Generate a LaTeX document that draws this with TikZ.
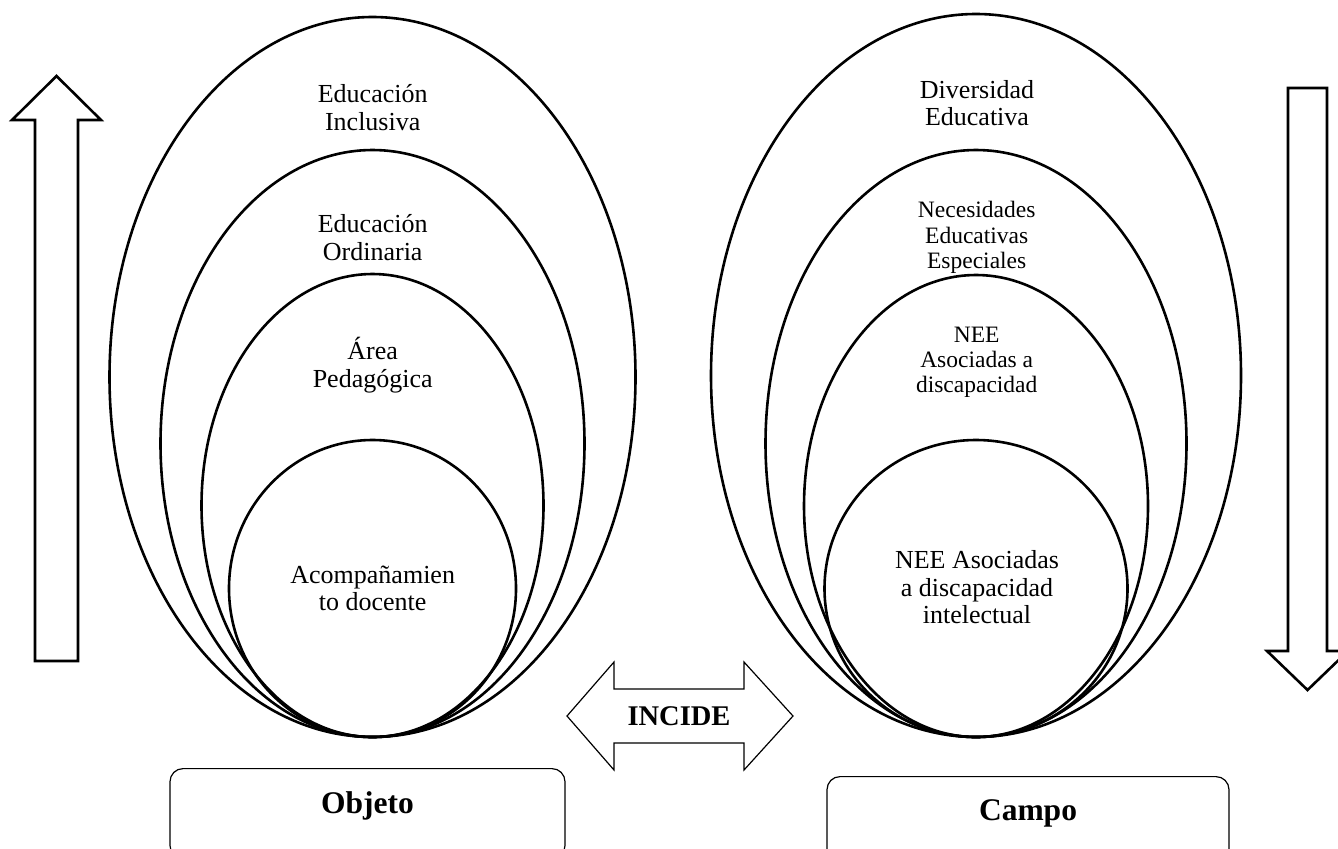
\documentclass[tikz,border=0pt]{standalone}
\usepackage{fontspec}
\setmainfont{Liberation Serif}
\begin{document}
\begin{tikzpicture}[x=0.5pt,y=-0.5pt,
  ring/.style={draw,line width=1.3pt},
  bigarrow/.style={draw,line width=1.3pt,line join=miter},
  thinarrow/.style={draw,line width=0.6pt,line join=miter},
  lbl/.style={align=center,inner sep=0pt,font=\fontsize{13}{13.75}\selectfont},
  lblsmall/.style={align=center,inner sep=0pt,font=\fontsize{11.75}{12.6}\selectfont},
  boxlbl/.style={inner sep=0pt,font=\bfseries\fontsize{15.75}{18}\selectfont},
  arrowlbl/.style={inner sep=0pt,font=\bfseries\fontsize{14.25}{16}\selectfont},
  fieldbox/.style={draw,line width=0.6pt,rounded corners=6.5pt,anchor=north,inner sep=0pt}]
\useasboundingbox (0,0) rectangle (1338,848);

% left group of ellipses
\draw[ring] (372.5,377) ellipse [x radius=131.5pt, y radius=180pt];
\draw[ring] (372.5,443.5) ellipse [x radius=106pt, y radius=146.75pt];
\draw[ring] (372.5,505.5) ellipse [x radius=85.5pt, y radius=115.75pt];
\draw[ring] (372.5,588.5) ellipse [x radius=71.75pt, y radius=74.25pt];

% right group of ellipses
\draw[ring] (976,375.5) ellipse [x radius=132.5pt, y radius=180.75pt];
\draw[ring] (976,443.5) ellipse [x radius=105.25pt, y radius=146.75pt];
\draw[ring] (976,506) ellipse [x radius=86pt, y radius=115.5pt];
\draw[ring] (976,588.5) ellipse [x radius=75.75pt, y radius=74.25pt];

% labels left
\node[lbl] (einc) at (372.7,107.5) {Educación\\Inclusiva};
\node[lbl] (eord) at (372.7,237.5) {Educación\\Ordinaria};
\node[lbl] (apeda) at (372.7,365) {Área\\Pedagógica};
\node[lbl] (acomp) at (372.7,588.5) {Acompañamien\\to docente};

% labels right
\node[lbl] (divers) at (977,103) {Diversidad\\Educativa};
\node[lblsmall,font=\fontsize{11.75}{12.75}\selectfont] (nee) at (976.7,237.5) {Necesidades\\Educativas\\Especiales};
\node[lblsmall,font=\fontsize{11.75}{12.5}\selectfont] (needis) at (976.7,362) {NEE\\Asociadas a\\discapacidad};
\node[lbl] (neeint) at (977,587.5) {NEE Asociadas\\a discapacidad\\intelectual};

% up arrow
\draw[bigarrow] (35,661) -- (35,120) -- (12,120) -- (56.5,76) -- (101,120) -- (78,120) -- (78,661) -- cycle;
% down arrow
\draw[bigarrow] (1288,88) -- (1327,88) -- (1327,651) -- (1348,651) -- (1307.5,690) -- (1267,651) -- (1288,651) -- cycle;

% INCIDE double arrow
\draw[thinarrow] (567,716) -- (614,662) -- (614,689) -- (744,689) -- (744,662) -- (793,716)
  -- (744,770) -- (744,743) -- (614,743) -- (614,770) -- cycle;
\node[arrowlbl] (incide) at (679,716.5) {INCIDE};

% bottom boxes
\node[fieldbox,minimum width=197.5pt,minimum height=45pt] (objbox) at (367.5,768) {};
\node[boxlbl] (objeto) at (367.5,806) {Objeto};
\node[fieldbox,minimum width=201pt,minimum height=45pt] (campobox) at (1028,776) {};
\node[boxlbl] (campo) at (1028,813) {Campo};
\end{tikzpicture}
\end{document}
